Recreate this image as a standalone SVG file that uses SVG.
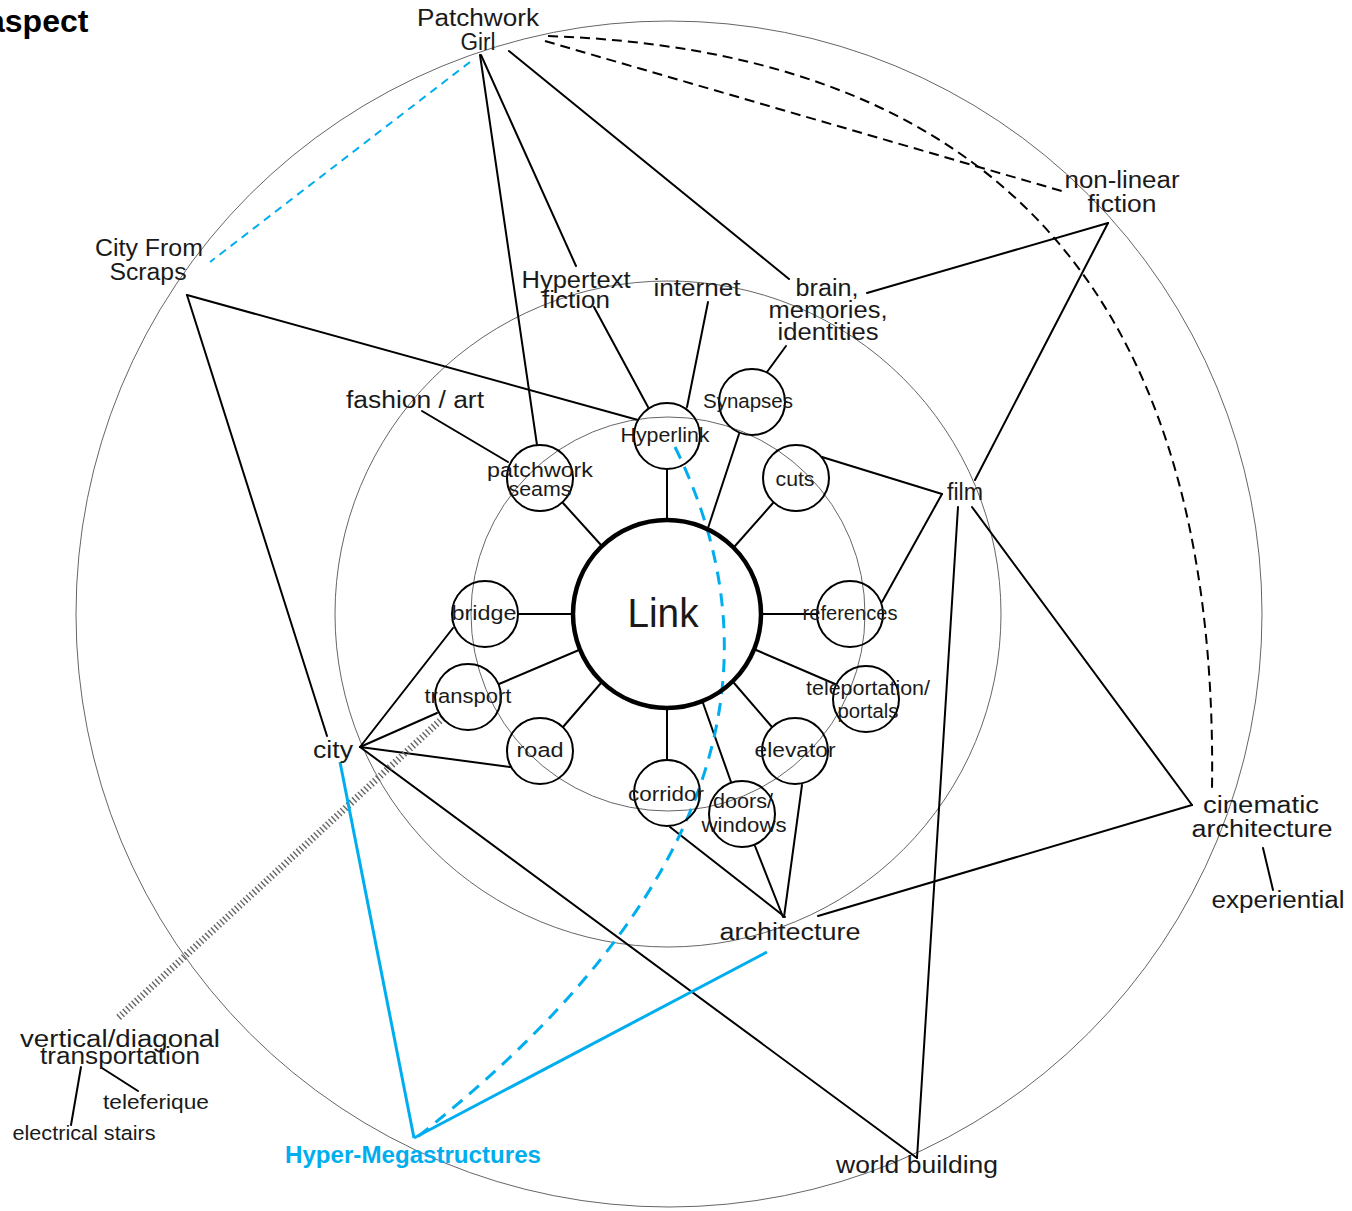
<svg xmlns="http://www.w3.org/2000/svg" width="1352" height="1211" viewBox="0 0 1352 1211">
  <style>
    text { font-family: "Liberation Sans", "DejaVu Sans", sans-serif; fill: #1a1a1a; text-anchor: middle; }
    .lg { font-size: 23.5px; }
    .nd { font-size: 20.5px; }
    .sm { font-size: 21px; }
    .title { font-size: 32px; font-weight: bold; fill: #000; text-anchor: start; }
    .blue-t { font-size: 23px; font-weight: bold; fill: #00aeef; }
    .ring { fill: none; stroke: #666; stroke-width: 1; }
    .node { fill: none; stroke: #000; stroke-width: 2; }
    .hub { fill: none; stroke: #000; stroke-width: 4.5; }
    .ln { fill: none; stroke: #000; stroke-width: 2; stroke-linecap: round; }
    .dash { fill: none; stroke: #000; stroke-width: 2; stroke-dasharray: 10 6; }
    .blue { fill: none; stroke: #00aeef; stroke-width: 3; }
    .blue-dash { fill: none; stroke: #00aeef; stroke-width: 3; stroke-dasharray: 13 9; }
    .blue-dash-thin { fill: none; stroke: #00aeef; stroke-width: 2; stroke-dasharray: 8 6; }
    .rail { fill: none; stroke: #666; stroke-width: 7; stroke-dasharray: 1.4 2.6; }
  </style>

  <rect width="1352" height="1211" fill="#fff"/>

  <!-- concentric guide rings -->
  <g id="rings">
    <circle class="ring" cx="668" cy="614" r="197"/>
    <circle class="ring" cx="668" cy="614" r="333"/>
    <circle class="ring" cx="669" cy="614" r="593"/>
  </g>

  <text class="title" x="-13" y="32">aspect</text>

  <!-- connectors -->
  <g id="connectors">
    <!-- spokes from the hub -->
    <line class="ln" x1="667" y1="520" x2="667" y2="469"/>
    <line class="ln" x1="708" y1="528" x2="739" y2="434"/>
    <line class="ln" x1="735" y1="546" x2="773" y2="503"/>
    <line class="ln" x1="761" y1="614" x2="817" y2="614"/>
    <line class="ln" x1="756" y1="650" x2="835" y2="684"/>
    <line class="ln" x1="734" y1="683" x2="772" y2="727"/>
    <line class="ln" x1="703" y1="703" x2="731" y2="782"/>
    <line class="ln" x1="667" y1="708" x2="667" y2="760"/>
    <line class="ln" x1="601" y1="683" x2="563" y2="727"/>
    <line class="ln" x1="579" y1="650" x2="499" y2="684"/>
    <line class="ln" x1="573" y1="614" x2="518" y2="614"/>
    <line class="ln" x1="601" y1="545" x2="563" y2="503"/>

    <!-- outer links -->
    <line class="ln" x1="480" y1="55" x2="537" y2="445"/>
    <line class="ln" x1="481" y1="55" x2="576" y2="266"/>
    <line class="ln" x1="594" y1="307" x2="648" y2="407"/>
    <line class="ln" x1="509" y1="51" x2="789" y2="279"/>
    <line class="ln" x1="187" y1="295" x2="638" y2="420"/>
    <line class="ln" x1="187" y1="295" x2="327" y2="736"/>
    <line class="ln" x1="708" y1="302" x2="687" y2="407"/>
    <line class="ln" x1="786" y1="346" x2="767" y2="372"/>
    <line class="ln" x1="867" y1="293" x2="1108" y2="223"/>
    <line class="ln" x1="1108" y1="223" x2="975" y2="480"/>
    <line class="ln" x1="822" y1="457" x2="942" y2="494"/>
    <line class="ln" x1="942" y1="494" x2="882" y2="602"/>
    <line class="ln" x1="958" y1="507" x2="917" y2="1158"/>
    <line class="ln" x1="972" y1="507" x2="1192" y2="805"/>
    <line class="ln" x1="818" y1="916" x2="1192" y2="805"/>
    <line class="ln" x1="1263" y1="848" x2="1273" y2="890"/>
    <line class="ln" x1="670" y1="827" x2="785" y2="917"/>
    <line class="ln" x1="755" y1="846" x2="783" y2="917"/>
    <line class="ln" x1="802" y1="785" x2="784" y2="917"/>
    <line class="ln" x1="360" y1="747" x2="453" y2="628"/>
    <line class="ln" x1="360" y1="747" x2="437" y2="713"/>
    <line class="ln" x1="360" y1="747" x2="510" y2="767"/>
    <line class="ln" x1="360" y1="747" x2="917" y2="1158"/>
    <line class="ln" x1="422" y1="411" x2="508" y2="462"/>
    <line class="ln" x1="102" y1="1068" x2="138" y2="1091"/>
    <line class="ln" x1="81" y1="1067" x2="71" y2="1125"/>

    <!-- rail-like track -->
    <line class="rail" x1="443" y1="718" x2="118" y2="1018"/>

    <!-- dashed links -->
    <line class="dash" x1="545" y1="41" x2="1065" y2="192"/>
    <path class="dash" d="M548,36 C950,50 1220,250 1212,790"/>

    <!-- blue links -->
    <line class="blue" x1="340" y1="762" x2="414" y2="1138"/>
    <line class="blue" x1="767" y1="952" x2="414" y2="1138"/>
    <path class="blue-dash" d="M675,447 C760,620 770,860 416,1138"/>
    <line class="blue-dash-thin" x1="470" y1="62" x2="210" y2="262"/>
  </g>

  <!-- hub -->
  <g id="node-link">
    <circle class="hub" cx="667" cy="614" r="94"/>
    <text x="663" y="627" style="font-size:40px" textLength="71" lengthAdjust="spacingAndGlyphs">Link</text>
  </g>

  <!-- inner ring nodes -->
  <g id="node-hyperlink"><circle class="node" cx="667" cy="436" r="33"/><text class="nd" x="665" y="442" textLength="89" lengthAdjust="spacingAndGlyphs">Hyperlink</text></g>
  <g id="node-synapses"><circle class="node" cx="752" cy="402" r="33"/><text class="nd" x="748" y="408" textLength="90" lengthAdjust="spacingAndGlyphs">Synapses</text></g>
  <g id="node-cuts"><circle class="node" cx="796" cy="478" r="33"/><text class="nd" x="795" y="486" textLength="39" lengthAdjust="spacingAndGlyphs">cuts</text></g>
  <g id="node-references"><circle class="node" cx="850" cy="614" r="33"/><text class="nd" x="850" y="620" textLength="95" lengthAdjust="spacingAndGlyphs">references</text></g>
  <g id="node-teleportation"><circle class="node" cx="866" cy="699" r="33"/><text class="nd" x="868" y="695" textLength="124" lengthAdjust="spacingAndGlyphs">teleportation/</text><text class="nd" x="868" y="718" textLength="61" lengthAdjust="spacingAndGlyphs">portals</text></g>
  <g id="node-elevator"><circle class="node" cx="795" cy="751" r="33"/><text class="nd" x="795" y="757" textLength="81" lengthAdjust="spacingAndGlyphs">elevator</text></g>
  <g id="node-doors"><circle class="node" cx="742" cy="814" r="33"/><text class="nd" x="743" y="808" textLength="60" lengthAdjust="spacingAndGlyphs">doors/</text><text class="nd" x="744" y="832" textLength="85" lengthAdjust="spacingAndGlyphs">windows</text></g>
  <g id="node-corridor"><circle class="node" cx="667" cy="793" r="33"/><text class="nd" x="666" y="801" textLength="76" lengthAdjust="spacingAndGlyphs">corridor</text></g>
  <g id="node-road"><circle class="node" cx="540" cy="751" r="33"/><text class="nd" x="540" y="757" textLength="47" lengthAdjust="spacingAndGlyphs">road</text></g>
  <g id="node-transport"><circle class="node" cx="468" cy="697" r="33"/><text class="nd" x="468" y="703" textLength="87" lengthAdjust="spacingAndGlyphs">transport</text></g>
  <g id="node-bridge"><circle class="node" cx="485" cy="614" r="33"/><text class="nd" x="484" y="620" textLength="65" lengthAdjust="spacingAndGlyphs">bridge</text></g>
  <g id="node-patchwork-seams"><circle class="node" cx="540" cy="478" r="33"/><text class="nd" x="540" y="477" textLength="106" lengthAdjust="spacingAndGlyphs">patchwork</text><text class="nd" x="540" y="496" textLength="63" lengthAdjust="spacingAndGlyphs">seams</text></g>

  <!-- outer labels -->
  <g id="node-patchwork-girl"><text class="lg" x="478" y="26" textLength="122" lengthAdjust="spacingAndGlyphs">Patchwork</text><text class="lg" x="478" y="50" textLength="35" lengthAdjust="spacingAndGlyphs">Girl</text></g>
  <g id="node-city-from-scraps"><text class="lg" x="149" y="256" textLength="108" lengthAdjust="spacingAndGlyphs">City From</text><text class="lg" x="148" y="280" textLength="77" lengthAdjust="spacingAndGlyphs">Scraps</text></g>
  <g id="node-hypertext-fiction"><text class="lg" x="576" y="288" textLength="109" lengthAdjust="spacingAndGlyphs">Hypertext</text><text class="lg" x="576" y="308" textLength="68" lengthAdjust="spacingAndGlyphs">fiction</text></g>
  <g id="node-internet"><text class="lg" x="697" y="296" textLength="87" lengthAdjust="spacingAndGlyphs">internet</text></g>
  <g id="node-brain"><text class="lg" x="827" y="296" textLength="63" lengthAdjust="spacingAndGlyphs">brain,</text><text class="lg" x="828" y="318" textLength="119" lengthAdjust="spacingAndGlyphs">memories,</text><text class="lg" x="828" y="340" textLength="101" lengthAdjust="spacingAndGlyphs">identities</text></g>
  <g id="node-fashion"><text class="lg" x="415" y="408" textLength="138" lengthAdjust="spacingAndGlyphs">fashion / art</text></g>
  <g id="node-non-linear"><text class="lg" x="1122" y="188" textLength="115" lengthAdjust="spacingAndGlyphs">non-linear</text><text class="lg" x="1122" y="212" textLength="69" lengthAdjust="spacingAndGlyphs">fiction</text></g>
  <g id="node-film"><text class="lg" x="965" y="500" textLength="36" lengthAdjust="spacingAndGlyphs">film</text></g>
  <g id="node-cinematic"><text class="lg" x="1261" y="813" textLength="116" lengthAdjust="spacingAndGlyphs">cinematic</text><text class="lg" x="1262" y="837" textLength="141" lengthAdjust="spacingAndGlyphs">architecture</text></g>
  <g id="node-experiential"><text class="lg" x="1278" y="908" textLength="133" lengthAdjust="spacingAndGlyphs">experiential</text></g>
  <g id="node-architecture"><text class="lg" x="790" y="940" textLength="141" lengthAdjust="spacingAndGlyphs">architecture</text></g>
  <g id="node-world-building"><text class="lg" x="917" y="1173" textLength="162" lengthAdjust="spacingAndGlyphs">world building</text></g>
  <g id="node-city"><text class="lg" x="333" y="758" textLength="40" lengthAdjust="spacingAndGlyphs">city</text></g>
  <g id="node-hyper-mega"><text class="blue-t" x="413" y="1163" textLength="256" lengthAdjust="spacingAndGlyphs">Hyper-Megastructures</text></g>
  <g id="node-vertical"><text class="lg" x="120" y="1047" textLength="200" lengthAdjust="spacingAndGlyphs">vertical/diagonal</text><text class="lg" x="120" y="1064" textLength="160" lengthAdjust="spacingAndGlyphs">transportation</text></g>
  <g id="node-teleferique"><text class="sm" x="156" y="1109" textLength="106" lengthAdjust="spacingAndGlyphs">teleferique</text></g>
  <g id="node-stairs"><text class="nd" x="84" y="1140" textLength="143" lengthAdjust="spacingAndGlyphs">electrical stairs</text></g>
</svg>
